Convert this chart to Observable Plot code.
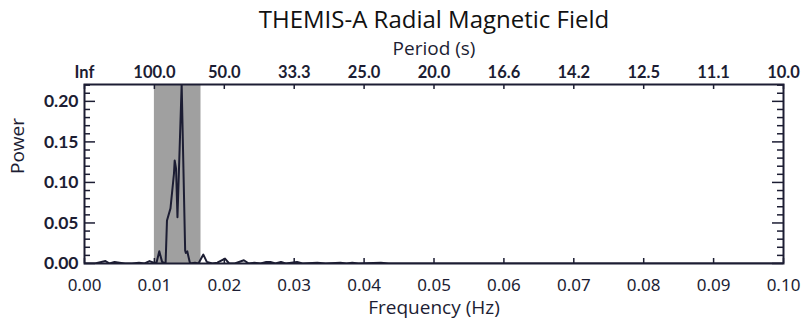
<!DOCTYPE html>
<html>
<head>
<meta charset="utf-8">
<script src="https://cdn.jsdelivr.net/npm/d3@7"></script>
<script src="https://cdn.jsdelivr.net/npm/@observablehq/plot@0.6"></script>
<style>
  html, body { margin: 0; padding: 0; background: #fff; }
  #chart svg { display: block; }
</style>
</head>
<body>
<div id="chart"></div>
<script>
// ---- data ----
const frequency = [
  0.0000, 0.0015, 0.0030, 0.0036, 0.0043, 0.0050, 0.0058, 0.0068, 0.0078, 0.0086,
  0.0093, 0.0099, 0.0103, 0.0107, 0.0111, 0.0116, 0.0118, 0.0123, 0.0128, 0.0129,
  0.0131, 0.0133, 0.0139, 0.0144, 0.0145, 0.0147, 0.0151, 0.0158, 0.0163, 0.0170,
  0.0175, 0.0183, 0.0190, 0.0201, 0.0207, 0.0215, 0.0228, 0.0235, 0.0243, 0.0252,
  0.0260, 0.0266, 0.0273, 0.0281, 0.0288, 0.0296, 0.0304, 0.0312, 0.0333, 0.0345,
  0.0366, 0.0375, 0.0383, 0.0392, 0.0424, 0.0435, 0.1000
];
const power = [
  0.000, 0.000, 0.003, 0.000, 0.002, 0.001, 0.000, 0.000, 0.001, 0.000,
  0.003, 0.001, 0.001, 0.015, 0.002, 0.000, 0.053, 0.068, 0.111, 0.127,
  0.117, 0.057, 0.221, 0.016, 0.013, 0.015, 0.000, 0.001, 0.000, 0.011,
  0.002, 0.000, 0.001, 0.006, 0.000, 0.000, 0.004, 0.000, 0.001, 0.000,
  0.002, 0.002, 0.000, 0.002, 0.000, 0.001, 0.002, 0.000, 0.001, 0.000,
  0.001, 0.000, 0.001, 0.000, 0.001, 0.000, 0.000
];
// shaded band: periods 100 s to 60 s
const bandPeriods = [100, 60];
// axes
const freqTicks = [0.00, 0.01, 0.02, 0.03, 0.04, 0.05, 0.06, 0.07, 0.08, 0.09, 0.10];
const freqLabels = ["0.00","0.01","0.02","0.03","0.04","0.05","0.06","0.07","0.08","0.09","0.10"];
const periodLabels = ["Inf","100.0","50.0","33.3","25.0","20.0","16.6","14.2","12.5","11.1","10.0"];
const powerMajorTicks = [0.00, 0.05, 0.10, 0.15, 0.20];
const powerMajorLabels = ["0.00","0.05","0.10","0.15","0.20"];
const powerMinorTicks = [0.01,0.02,0.03,0.04,0.06,0.07,0.08,0.09,0.11,0.12,0.13,0.14,0.16,0.17,0.18,0.19,0.21,0.22];

const titleText = "THEMIS-A Radial Magnetic Field";
const topLabel = "Period (s)";
const xLabel = "Frequency (Hz)";
const yLabel = "Power";

// ---- layout ----
const W = 803, H = 321;
const mL = 84, mR = 20, mT = 84, mB = 58;
const frameW = W - mL - mR, frameH = H - mT - mB;
const ink = "#1c1d33";
const tickFont = "Lato, 'Open Sans', sans-serif";
const labelFont = "'Open Sans', 'Noto Sans', sans-serif";

const data = frequency.map((f, i) => ({f, p: power[i]}));
const band = [{f1: 1 / bandPeriods[0], f2: 1 / bandPeriods[1]}];

const chart = Plot.plot({
  width: W,
  height: H,
  marginLeft: mL,
  marginRight: mR,
  marginTop: mT,
  marginBottom: mB,
  style: {background: "#fff", color: ink, overflow: "visible"},
  x: {domain: [0, 0.1]},
  y: {domain: [0, 0.2208]},
  marks: [
    Plot.rect(band, {x1: "f1", x2: "f2", fill: "#a0a0a0"}),
    Plot.line(data, {x: "f", y: "p", stroke: ink, strokeWidth: 2, clip: true}),
    // inward ticks
    Plot.tickX(freqTicks, {x: d => d, stroke: ink, strokeWidth: 1.5, insetTop: frameH - 5}),
    Plot.tickX(freqTicks, {x: d => d, stroke: ink, strokeWidth: 1.5, insetBottom: frameH - 5}),
    Plot.tickY(powerMajorTicks, {y: d => d, stroke: ink, strokeWidth: 1.5, insetRight: frameW - 11}),
    Plot.tickY(powerMinorTicks, {y: d => d, stroke: ink, strokeWidth: 1.5, insetRight: frameW - 6}),
    Plot.tickY(powerMajorTicks, {y: d => d, stroke: ink, strokeWidth: 1.5, insetLeft: frameW - 11}),
    Plot.tickY(powerMinorTicks, {y: d => d, stroke: ink, strokeWidth: 1.5, insetLeft: frameW - 6}),
    Plot.frame({stroke: ink, strokeWidth: 2}),
    // tick labels
    Plot.axisX({anchor: "bottom", ticks: freqTicks, tickSize: 0, tickPadding: 15, label: null,
      tickFormat: d => freqLabels[freqTicks.indexOf(d)], fontSize: 17, fontFamily: "'Noto Sans', sans-serif"}),
    Plot.axisX({anchor: "top", ticks: freqTicks, tickSize: 0, tickPadding: 7, label: null,
      tickFormat: d => periodLabels[freqTicks.indexOf(d)], fontSize: 16.5, fontFamily: tickFont, fontWeight: "bold"}),
    Plot.axisY({anchor: "left", ticks: powerMajorTicks, tickSize: 0, tickPadding: 6, label: null,
      tickFormat: d => powerMajorLabels[powerMajorTicks.indexOf(d)], fontSize: 17.5, fontFamily: tickFont, fontWeight: "bold"}),
    // axis titles
    Plot.text([xLabel], {frameAnchor: "bottom", lineAnchor: "middle", dy: 44, fontSize: 19, fontFamily: labelFont, fill: ink}),
    Plot.text([topLabel], {frameAnchor: "top", lineAnchor: "middle", dy: -36, fontSize: 19, fontFamily: labelFont, fill: ink}),
    Plot.text([titleText], {frameAnchor: "top", lineAnchor: "middle", dy: -64, fontSize: 24, fontFamily: labelFont, fill: "#111"}),
    Plot.text([yLabel], {frameAnchor: "left", lineAnchor: "middle", dx: -67, rotate: -90, fontSize: 19, fontFamily: labelFont, fill: ink})
  ]
});
document.getElementById("chart").append(chart);
</script>
</body>
</html>
